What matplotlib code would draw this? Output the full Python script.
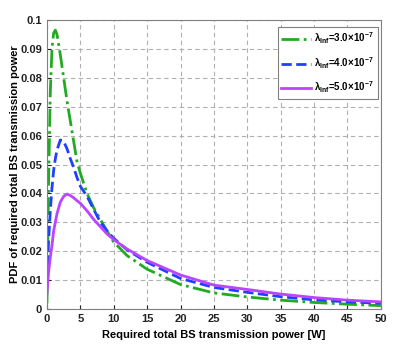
import matplotlib
matplotlib.use('Agg')
from matplotlib import pyplot as plt

# values
x_pts = [0, 0.25, 0.5, 0.75, 1.0, 1.25, 1.5, 2.0, 2.5, 3.0, 3.5, 4.0, 4.5, 5.0, 6.0, 7.0, 8.0,
         9.0, 10, 12, 15, 20, 25, 30, 35, 40, 45, 50]
pdf_3 = [0.002, 0.045, 0.075, 0.090, 0.0955, 0.0965, 0.095, 0.088, 0.080, 0.072, 0.065, 0.058,
         0.051, 0.047, 0.040, 0.035, 0.031, 0.027, 0.0232, 0.0185, 0.0138, 0.0085, 0.0056, 0.0042,
         0.0031, 0.0023, 0.0017, 0.0012]
pdf_4 = [0.010, 0.024, 0.034, 0.042, 0.048, 0.052, 0.055, 0.0585, 0.058, 0.0555, 0.052, 0.049,
         0.0455, 0.0425, 0.039, 0.0345, 0.030, 0.027, 0.0245, 0.0205, 0.0162, 0.0106, 0.0075,
         0.0058, 0.0043, 0.0032, 0.0025, 0.0020]
pdf_5 = [0.0055, 0.013, 0.018, 0.022, 0.027, 0.030, 0.033, 0.037, 0.039, 0.0398, 0.0393, 0.0385,
         0.0375, 0.0366, 0.034, 0.031, 0.0285, 0.026, 0.024, 0.0208, 0.0168, 0.0118, 0.0083,
         0.0068, 0.0052, 0.0040, 0.0031, 0.0025]
labels = ['λ$_{Inf}$=3.0$\\times$10$^{-7}$',
          'λ$_{Inf}$=4.0$\\times$10$^{-7}$',
          'λ$_{Inf}$=5.0$\\times$10$^{-7}$']
x_ticks = [0, 5, 10, 15, 20, 25, 30, 35, 40, 45, 50]
y_ticks = [0, 0.01, 0.02, 0.03, 0.04, 0.05, 0.06, 0.07, 0.08, 0.09, 0.1]
y_tick_labels = ['0', '0.01', '0.02', '0.03', '0.04', '0.05', '0.06', '0.07', '0.08', '0.09', '0.1']

plt.rcParams['font.family'] = ['Liberation Sans', 'DejaVu Sans']
plt.rcParams['font.weight'] = 'bold'
plt.rcParams['mathtext.default'] = 'bf'
plt.rcParams['mathtext.fontset'] = 'custom'
plt.rcParams['mathtext.bf'] = 'Liberation Sans:bold'

fig = plt.figure(figsize=(3.98, 3.45), dpi=100)
ax = fig.add_axes([0.118, 0.104, 0.839, 0.838])

ax.plot(x_pts, pdf_3, '-.', color='#22aa22', lw=2, label=labels[0])
ax.plot(x_pts, pdf_4, '--', color='#2040ff', lw=2, label=labels[1])
ax.plot(x_pts, pdf_5, '-', color='#bb44ff', lw=2, label=labels[2])

ax.set_xlim(0, 50)
ax.set_ylim(0, 0.1)
ax.set_xticks(x_ticks)
ax.set_yticks(y_ticks)
ax.set_yticklabels(y_tick_labels)
ax.tick_params(direction='in', length=3, labelsize=8, colors='#222222')
ax.grid(True, linestyle=(0, (4, 3)), color='#b0b0b0', lw=0.8)
for s in ax.spines.values():
    s.set_color('#808080')

ax.set_xlabel('Required total BS transmission power [W]', fontsize=8, fontweight='bold')
ax.set_ylabel('PDF of required total BS transmission power', fontsize=8, fontweight='bold')
ax.yaxis.set_label_coords(-0.082, 0.5)

leg = ax.legend(loc='upper right', bbox_to_anchor=(0.991, 0.976), borderaxespad=0,
                fontsize=7, fancybox=False, edgecolor='#808080', framealpha=1,
                handlelength=3.0, handletextpad=0.4, labelspacing=0.9)
leg.get_frame().set_linewidth(0.8)

plt.savefig('out.png', dpi=100)
